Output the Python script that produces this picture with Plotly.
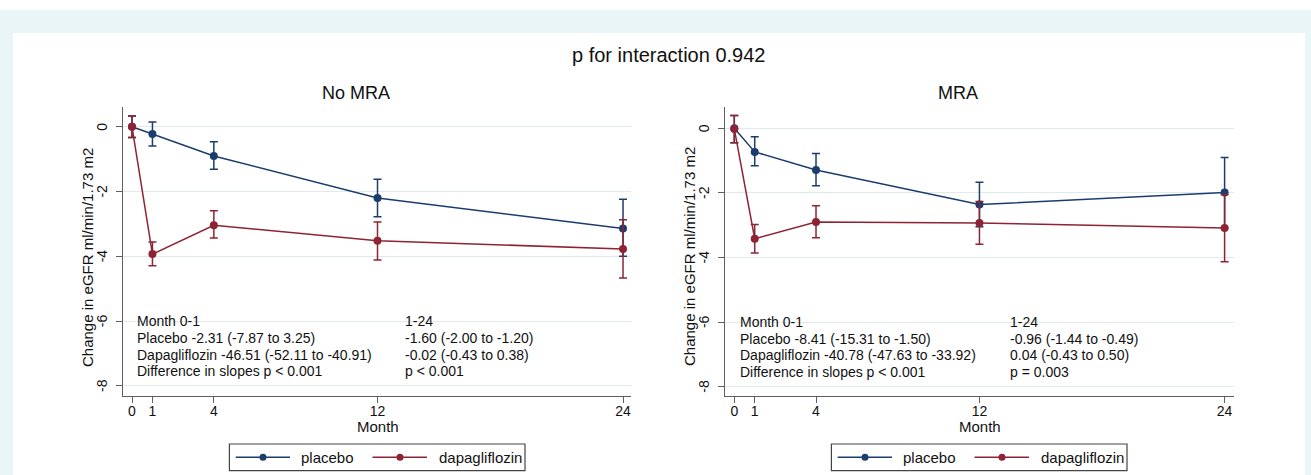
import plotly.graph_objects as go

# ---------------- data ----------------
months = [0, 1, 4, 12, 24]

# No MRA panel
placebo_nomra = [0.00, -0.22, -0.90, -2.20, -3.14]
placebo_nomra_hi = [0.33, 0.15, -0.46, -1.62, -2.24]
placebo_nomra_lo = [-0.33, -0.59, -1.31, -2.78, -4.00]
dapa_nomra = [0.00, -3.93, -3.04, -3.52, -3.77]
dapa_nomra_hi = [0.33, -3.56, -2.59, -2.94, -2.87]
dapa_nomra_lo = [-0.33, -4.29, -3.43, -4.11, -4.67]

# MRA panel
placebo_mra = [0.00, -0.73, -1.29, -2.36, -1.99]
placebo_mra_hi = [0.40, -0.26, -0.78, -1.67, -0.90]
placebo_mra_lo = [-0.45, -1.16, -1.78, -3.05, -3.08]
dapa_mra = [-0.02, -3.42, -2.90, -2.93, -3.09]
dapa_mra_hi = [0.40, -2.98, -2.40, -2.27, -2.05]
dapa_mra_lo = [-0.45, -3.86, -3.39, -3.59, -4.13]

y_ticks = [0, -2, -4, -6, -8]
y_ticktext = ["0", "-2", "-4", "-6", "-8"]
x_ticktext = ["0", "1", "4", "12", "24"]

main_title = "p for interaction 0.942"
panel_titles = ["No MRA", "MRA"]
y_title = "Change in eGFR ml/min/1.73 m2"
x_title = "Month"
series_names = ["placebo", "dapagliflozin"]

stats_nomra_col1 = ["Month 0-1", "Placebo -2.31 (-7.87 to 3.25)",
                    "Dapagliflozin -46.51 (-52.11 to -40.91)", "Difference in slopes p < 0.001"]
stats_nomra_col2 = ["1-24", "-1.60 (-2.00 to -1.20)", "-0.02 (-0.43 to 0.38)", "p < 0.001"]
stats_mra_col1 = ["Month 0-1", "Placebo -8.41 (-15.31 to -1.50)",
                  "Dapagliflozin -40.78 (-47.63 to -33.92)", "Difference in slopes p < 0.001"]
stats_mra_col2 = ["1-24", "-0.96 (-1.44 to -0.49)", "0.04 (-0.43 to 0.50)", "p = 0.003"]

# ---------------- style ----------------
W, H = 1311, 475
BLUE = "#1b3d6e"
RED = "#8e2433"
AXC = "#5f5f5f"
GRID = "#e1eaee"
BG = "#eaf5f8"
FONT = "Liberation Sans, Arial, sans-serif"
TXT = "#111111"


def px(x):
    return x / W


def py(y):
    return 1 - y / H


fig = go.Figure()

panels = [
    dict(xa="x", ya="y",
         series=[(placebo_nomra, placebo_nomra_hi, placebo_nomra_lo, BLUE),
                 (dapa_nomra, dapa_nomra_hi, dapa_nomra_lo, RED)]),
    dict(xa="x2", ya="y2",
         series=[(placebo_mra, placebo_mra_hi, placebo_mra_lo, BLUE),
                 (dapa_mra, dapa_mra_hi, dapa_mra_lo, RED)]),
]

for p in panels:
    for (vals, hi, lo, col), name in zip(p["series"], series_names):
        fig.add_trace(go.Scatter(
            x=months, y=vals, xaxis=p["xa"], yaxis=p["ya"], name=name,
            mode="lines+markers", showlegend=False,
            line=dict(color=col, width=1.5),
            marker=dict(color=col, size=8),
            error_y=dict(type="data", symmetric=False,
                         array=[h - v for h, v in zip(hi, vals)],
                         arrayminus=[v - l for v, l in zip(vals, lo)],
                         color=col, thickness=1.5, width=4),
        ))

axis_common_x = dict(showline=True, linecolor=AXC, linewidth=1.3, ticks="outside",
                     ticklen=6, tickcolor=AXC, tickwidth=1.2, tickvals=months,
                     ticktext=x_ticktext, showgrid=False, zeroline=False,
                     ticklabelstandoff=-4,
                     tickfont=dict(family=FONT, size=14, color=TXT), fixedrange=True)
axis_common_y = dict(showline=True, linecolor=AXC, linewidth=1.3, ticks="outside",
                     ticklen=6, tickcolor=AXC, tickwidth=1.2, tickvals=y_ticks,
                     showticklabels=False, showgrid=True, gridcolor=GRID,
                     gridwidth=1, zeroline=False, fixedrange=True)

fig.update_layout(
    width=W, height=H,
    margin=dict(l=0, r=0, t=0, b=0),
    paper_bgcolor=BG, plot_bgcolor="white",
    showlegend=False,
    font=dict(family=FONT, size=14, color=TXT),
    xaxis=dict(domain=[px(123), px(631)], range=[-0.44, 24.39], anchor="y", **axis_common_x),
    yaxis=dict(domain=[py(395.7), py(107)], range=[-8.30, 0.61], anchor="x", **axis_common_y),
    xaxis2=dict(domain=[px(725), px(1234)], range=[-0.455, 24.46], anchor="y2", **axis_common_x),
    yaxis2=dict(domain=[py(395.7), py(107)], range=[-8.28, 0.66], anchor="x2", **axis_common_y),
)

shapes = [
    # white top band and white panel
    dict(type="rect", xref="paper", yref="paper", x0=0, x1=1, y0=py(10), y1=1,
         fillcolor="white", line=dict(width=0), layer="below"),
    dict(type="rect", xref="paper", yref="paper", x0=px(13), x1=px(1305), y0=0, y1=py(33),
         fillcolor="white", line=dict(width=0), layer="below"),
]

annotations = [
    dict(text=main_title, x=px(668), y=py(55), xref="paper", yref="paper",
         showarrow=False, font=dict(size=20, family=FONT, color=TXT),
         xanchor="center", yanchor="middle"),
]

offsets = [0, 602]
title_x = [356, 958]
yrefs = ["y", "y2"]
for i, off in enumerate(offsets):
    annotations.append(dict(text=panel_titles[i], x=px(title_x[i]), y=py(92.7),
                            xref="paper", yref="paper", showarrow=False,
                            font=dict(size=18, family=FONT, color=TXT),
                            xanchor="center", yanchor="middle"))
    annotations.append(dict(text=y_title, x=px(87 + off), y=py(257), xref="paper",
                            yref="paper", showarrow=False, textangle=-90,
                            font=dict(size=15, family=FONT, color=TXT),
                            xanchor="center", yanchor="middle"))
    annotations.append(dict(text=x_title, x=px(377.5 + off), y=py(426), xref="paper",
                            yref="paper", showarrow=False,
                            font=dict(size=15, family=FONT, color=TXT),
                            xanchor="center", yanchor="middle"))
    # rotated y tick labels
    for tv, tt in zip(y_ticks, y_ticktext):
        annotations.append(dict(text=tt, x=px(102 + off), y=tv, xref="paper", yref=yrefs[i],
                                showarrow=False, textangle=-90,
                                font=dict(size=14, family=FONT, color=TXT),
                                xanchor="center", yanchor="middle"))

# stats text blocks (data coordinates)
line_y = [-6.0, -6.515, -7.03, -7.545]
blocks = [("x", "y", 0.17, 13.24, stats_nomra_col1, stats_nomra_col2),
          ("x2", "y2", 0.20, 13.40, stats_mra_col1, stats_mra_col2)]
for xr, yr, c1, c2, col1, col2 in blocks:
    for yy, t1, t2 in zip(line_y, col1, col2):
        for xx, t in ((c1, t1), (c2, t2)):
            annotations.append(dict(text=t, x=xx, y=yy, xref=xr, yref=yr, showarrow=False,
                                    xanchor="left", yanchor="middle",
                                    font=dict(size=14, family=FONT, color=TXT)))

# manual legends
for off in offsets:
    shapes.append(dict(type="rect", xref="paper", yref="paper",
                       x0=px(229.4 + off), x1=px(525 + off), y0=py(470.7), y1=py(444),
                       line=dict(color="#444444", width=1.2), fillcolor="white"))
    for (l0, l1, mc, tx), col, name in zip([(235.7, 290, 263, 299), (372.5, 427, 400, 436.5)],
                                           [BLUE, RED], series_names):
        shapes.append(dict(type="line", xref="paper", yref="paper",
                           x0=px(l0 + off), x1=px(l1 + off), y0=py(457.3), y1=py(457.3),
                           line=dict(color=col, width=1.5)))
        shapes.append(dict(type="circle", xref="paper", yref="paper",
                           xsizemode="pixel", ysizemode="pixel",
                           xanchor=px(mc + off), yanchor=py(457.3),
                           x0=-3.5, x1=3.5, y0=-3.5, y1=3.5,
                           fillcolor=col, line=dict(color=col, width=0)))
        annotations.append(dict(text=name, x=px(tx + off), y=py(457.3), xref="paper",
                                yref="paper", showarrow=False, xanchor="left",
                                yanchor="middle", font=dict(size=15, family=FONT, color=TXT)))

fig.update_layout(shapes=shapes, annotations=annotations)

fig.write_html("out.html", config={"displayModeBar": False},
               post_script="document.body.style.margin='0';document.body.style.overflow='hidden';")
